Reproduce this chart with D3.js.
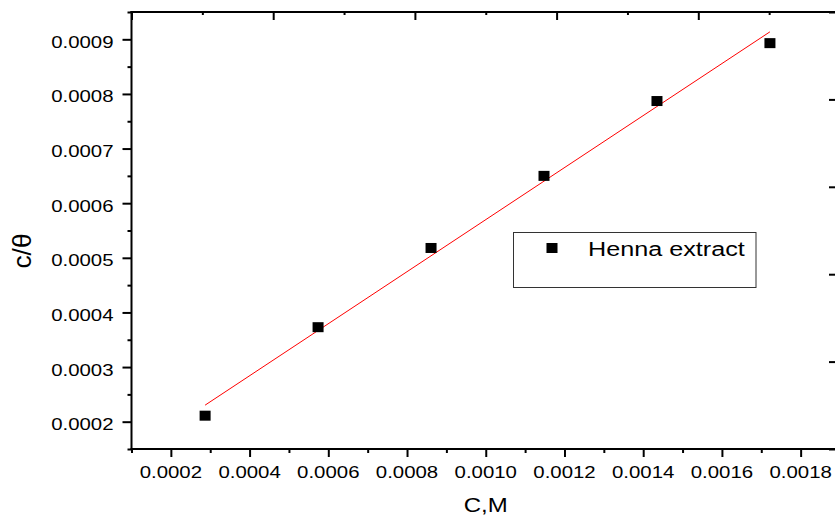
<!DOCTYPE html>
<html>
<head>
<meta charset="utf-8">
<script src="https://cdn.jsdelivr.net/npm/d3@7"></script>
<style>
  html, body { margin: 0; padding: 0; background: #fff; }
  svg { display: block; }
  text { font-family: "Liberation Sans", Arial, Helvetica, sans-serif; fill: #000; }
</style>
</head>
<body>
<svg id="chart" width="835" height="515"></svg>
<script>
// ---- data ----
const conc = [0.000287, 0.000574, 0.000861, 0.001148, 0.001435, 0.001722];
const cTheta = [0.000211, 0.000373, 0.000518, 0.000650, 0.000787, 0.000893];
const xMajorTicks = [0.0002, 0.0004, 0.0006, 0.0008, 0.0010, 0.0012, 0.0014, 0.0016, 0.0018];
const xMinorTicks = [0.0001, 0.0003, 0.0005, 0.0007, 0.0009, 0.0011, 0.0013, 0.0015, 0.0017, 0.0019];
const yMajorTicks = [0.0002, 0.0003, 0.0004, 0.0005, 0.0006, 0.0007, 0.0008, 0.0009];
const yMinorTicks = [0.00015, 0.00025, 0.00035, 0.00045, 0.00055, 0.00065, 0.00075, 0.00085, 0.00095];
const seriesName = "Henna extract";
const xTitle = "C,M";
const yTitle = "c/θ";

// ---- layout ----
const L = 131.5, R = 840, T = 12, B = 449;
const SX = 1.2; // horizontal text stretch of reference

const svg = d3.select("#chart");
const x = d3.scaleLinear().domain([0.0001, 0.0019]).range([L, R]);
const y = d3.scaleLinear().domain([0.00015, 0.00095]).range([B, T]);
const fmt = d => d.toFixed(4);

function styleAxis(g, w) {
  g.selectAll(".domain").remove();
  g.selectAll(".tick line").attr("stroke", "#000").attr("stroke-width", w);
  g.selectAll(".tick text").remove();
}

// bottom axis ticks
svg.append("g").attr("transform", `translate(0,${B})`)
  .call(d3.axisBottom(x).tickValues(xMajorTicks).tickSize(8).tickFormat(""))
  .call(g => styleAxis(g, 2));
svg.append("g").attr("transform", `translate(0,${B})`)
  .call(d3.axisBottom(x).tickValues(xMinorTicks).tickSize(4).tickFormat(""))
  .call(g => styleAxis(g, 2));

// left axis ticks
svg.append("g").attr("transform", `translate(${L},0)`)
  .call(d3.axisLeft(y).tickValues(yMajorTicks).tickSize(9).tickFormat(""))
  .call(g => styleAxis(g, 2));
svg.append("g").attr("transform", `translate(${L},0)`)
  .call(d3.axisLeft(y).tickValues(yMinorTicks).tickSize(4).tickFormat(""))
  .call(g => styleAxis(g, 2));

// top axis (independent scale, 5 divisions), ticks inward
const xTop = d3.scaleLinear().domain([0, 10]).range([L, R]);
svg.append("g").attr("transform", `translate(0,${T})`)
  .call(d3.axisBottom(xTop).tickValues([0, 2, 4, 6, 8, 10]).tickSize(8).tickFormat(""))
  .call(g => styleAxis(g, 2));
svg.append("g").attr("transform", `translate(0,${T})`)
  .call(d3.axisBottom(xTop).tickValues([1, 3, 5, 7, 9]).tickSize(3).tickFormat(""))
  .call(g => styleAxis(g, 2));

// right axis (independent scale), ticks inward
const yRight = d3.scaleLinear().domain([0, 5]).range([B, T]);
svg.append("g").attr("transform", `translate(${R},0)`)
  .call(d3.axisLeft(yRight).tickValues([0, 1, 2, 3, 4, 5]).tickSize(11).tickFormat(""))
  .call(g => styleAxis(g, 2));

// frame lines
const frame = svg.append("g").attr("stroke", "#000").attr("stroke-width", 2).attr("fill", "none");
frame.append("line").attr("x1", L).attr("x2", L).attr("y1", T - 1).attr("y2", B + 1);
frame.append("line").attr("x1", L - 1).attr("x2", R).attr("y1", B).attr("y2", B);
frame.append("line").attr("x1", L - 1).attr("x2", R).attr("y1", T).attr("y2", T);
frame.append("line").attr("x1", R).attr("x2", R).attr("y1", T).attr("y2", B);

// tick labels
function stretchedText(parent, tx, ty, str, size, anchor) {
  const g = parent.append("g").attr("transform", `translate(${tx},${ty}) scale(${SX},1)`);
  g.append("text").attr("text-anchor", anchor).attr("font-size", size).text(str);
  return g;
}
const labels = svg.append("g");
xMajorTicks.forEach(v => stretchedText(labels, x(v), 477.5, fmt(v), 17, "middle"));
yMajorTicks.forEach(v => stretchedText(labels, 113.5, y(v) + 8.5, fmt(v), 17, "end"));

// axis titles
stretchedText(svg, (L + R) / 2, 511.5, xTitle, 20, "middle");
svg.append("g").attr("transform", `translate(31,251) rotate(-90) scale(1.2,1.15)`)
  .append("text").attr("text-anchor", "middle").attr("font-size", 22).text(yTitle);

// regression line
const mx = d3.mean(conc), my = d3.mean(cTheta);
const slope = d3.sum(conc.map((c, i) => (c - mx) * (cTheta[i] - my))) / d3.sum(conc.map(c => (c - mx) ** 2));
const icpt = my - slope * mx;
const xs = [d3.min(conc), d3.max(conc)];
svg.append("path")
  .attr("d", d3.line().x(d => x(d)).y(d => y(icpt + slope * d))(xs))
  .attr("stroke", "#ff0000").attr("stroke-width", 1).attr("fill", "none");

// points
const pw = 11, ph = 10;
svg.append("g").selectAll("rect").data(conc).join("rect")
  .attr("x", d => x(d) - pw / 2)
  .attr("y", (d, i) => y(cTheta[i]) - ph / 2)
  .attr("width", pw).attr("height", ph)
  .attr("fill", "#000");

// legend
const lg = svg.append("g");
lg.append("rect").attr("x", 513.5).attr("y", 232.5).attr("width", 242.5).attr("height", 55)
  .attr("fill", "#fff").attr("stroke", "#333").attr("stroke-width", 1);
lg.append("rect").attr("x", 546.5).attr("y", 243).attr("width", 11).attr("height", 10).attr("fill", "#000");
stretchedText(lg, 588, 255.5, seriesName, 21, "start");
</script>
</body>
</html>
